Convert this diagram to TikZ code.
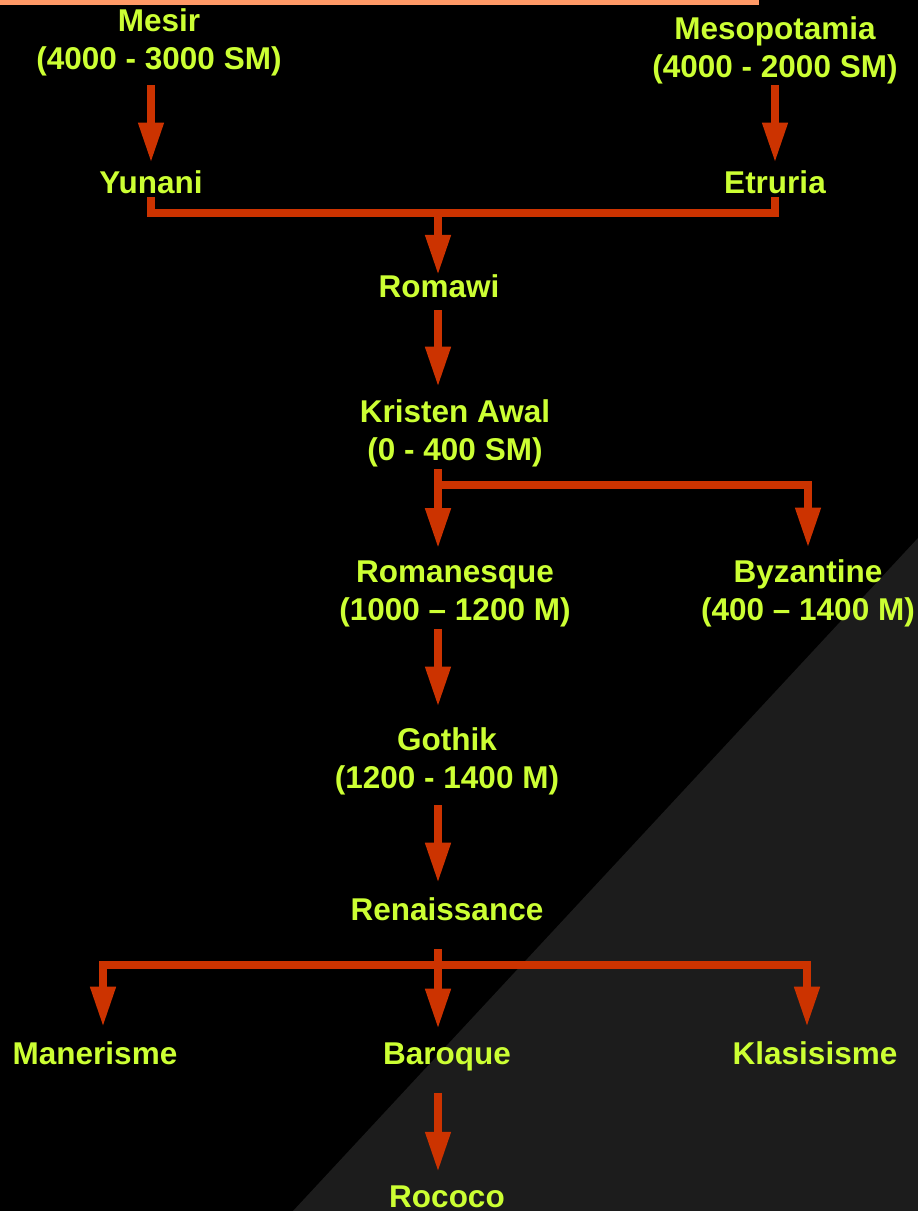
\documentclass[tikz,border=0pt]{standalone}
\usepackage{fontspec}
\setmainfont{Liberation Sans}
\usetikzlibrary{arrows.meta}

\definecolor{eratext}{HTML}{CCFF33}
\definecolor{arrowred}{HTML}{CC3300}
\definecolor{topbar}{HTML}{FF9966}
\definecolor{slate}{HTML}{1C1C1C}

\tikzset{
  era/.style={text=eratext, font=\fontsize{31.5}{38}\selectfont\bfseries,
    align=center, inner sep=0pt},
  link/.style={draw=arrowred, line width=7.5pt},
  arr/.style={link, -{Triangle[width=24pt,length=40pt]}},
}

\begin{document}
\begin{tikzpicture}[x=1pt,y=-1pt]
  % backdrop
  \fill[black] (0,0) rectangle (918,1211);
  \fill[slate] (918,538) -- (293,1211) -- (918,1211) -- cycle;
  \fill[topbar] (0,0) rectangle (759,5);
  \useasboundingbox (0,0) rectangle (918,1211);

  \node[era] (mesir)       at (159,42)     {Mesir\\(4000 - 3000 SM)};
  \node[era] (meso)        at (775,50)     {Mesopotamia\\(4000 - 2000 SM)};
  \node[era] (yunani)      at (151,182.7)  {Yunani};
  \node[era] (etruria)     at (775,182.7)  {Etruria};
  \node[era] (romawi)      at (439,286.7)  {Romawi};
  \node[era] (kristen)     at (455,433)    {Kristen Awal\\(0 - 400 SM)};
  \node[era] (romanesque)  at (455,593.5)  {Romanesque\\(1000 – 1200 M)};
  \node[era] (byzantine)   at (808,593.5)  {Byzantine\\(400 – 1400 M)};
  \node[era] (gothik)      at (447,761.5)  {Gothik\\(1200 - 1400 M)};
  \node[era] (renaissance) at (447,909.5)  {Renaissance};
  \node[era] (manerisme)   at (95,1053.5)  {Manerisme};
  \node[era] (baroque)     at (447,1057)   {Baroque};
  \node[era] (klasisisme)  at (815,1053.5) {Klasisisme};
  \node[era] (rococo)      at (447,1196.5) {Rococo};

  \coordinate (spine)    at (438,0);
  \coordinate (fork1)    at (438,213);
  \coordinate (fork2)    at (438,485);
  \coordinate (fork3)    at (438,965);
  \coordinate (leftend)  at (103,965);
  \coordinate (rightend) at (807,965);

  \draw[arr, shorten <=9.4pt, shorten >=8.4pt] (mesir.south -| yunani) -- (yunani.north);
  \draw[arr, shorten <=1.4pt, shorten >=8.4pt] (meso.south -| etruria) -- (etruria.north);
  \draw[link, shorten <=3pt, shorten >=3pt] (yunani.south) |- (fork1) -| (etruria.south);
  \draw[arr] (fork1) -- (spine |- romawi.north);
  \draw[arr, shorten <=12pt, shorten >=12.4pt] (spine |- romawi.south) -- (spine |- kristen.north);
  \draw[arr, shorten <=2.4pt, shorten >=12pt] (spine |- kristen.south) -- (spine |- romanesque.north);
  \draw[arr, shorten >=12pt] (fork2) -| (byzantine.north);
  \draw[arr, shorten <=2pt, shorten >=21pt] (spine |- romanesque.south) -- (spine |- gothik.north);
  \draw[arr, shorten <=10pt, shorten >=15pt] (spine |- gothik.south) -- (spine |- renaissance.north);
  \draw[arr, shorten <=28pt, shorten >=14pt] (spine |- renaissance.south) -- (spine |- baroque.north);
  \draw[link, line cap=rect] (leftend) -- (rightend);
  \draw[arr, shorten >=15pt] (leftend) -- (leftend |- manerisme.north);
  \draw[arr, shorten >=15pt] (rightend) -- (rightend |- klasisisme.north);
  \draw[arr, shorten <=21.4pt, shorten >=13.5pt] (spine |- baroque.south) -- (spine |- rococo.north);
\end{tikzpicture}
\end{document}
